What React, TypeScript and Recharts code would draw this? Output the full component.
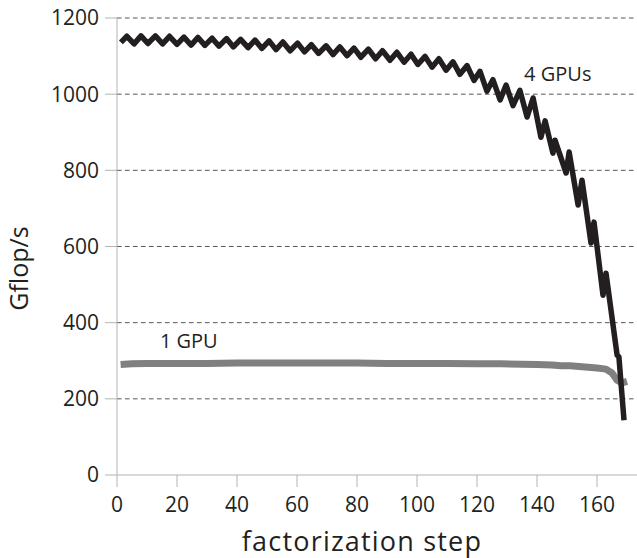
import React from 'react';
import { LineChart, Line, XAxis, YAxis, ReferenceLine, ReferenceDot, Label } from 'recharts';

// factorization step (x) and Gflop/s (y) for the 4-GPU run, read at each corner of the zig-zag
const gpu4Steps = [
  1.3, 3.3, 5.7, 8.0, 10.3, 12.8, 15.2, 17.5, 20.0, 22.3, 24.7, 27.0, 29.3, 31.7, 34.0,
  36.5, 38.8, 41.2, 43.7, 46.0, 48.3, 50.7, 53.0, 55.3, 57.7, 60.2, 62.5, 64.8, 67.2,
  69.7, 72.0, 74.3, 76.7, 79.0, 81.3, 83.8, 86.2, 88.5, 91.0, 93.3, 95.7, 98.0, 100.3,
  102.7, 105.0, 107.3, 109.7, 112.0, 114.3, 116.7, 119.0, 121.0, 123.3, 125.3, 127.7,
  129.7, 132.0, 134.3, 136.7, 138.7, 141.3, 142.7, 145.3, 146.0, 149.7, 150.7, 153.7,
  155.0, 158.0, 159.0, 162.0, 163.0, 166.7, 167.3, 169.0,
];
const gpu4Values = [
  1136, 1152, 1132, 1153, 1133, 1153, 1132, 1152, 1131, 1150, 1129, 1149, 1128, 1147, 1126,
  1146, 1124, 1144, 1122, 1142, 1120, 1140, 1117, 1137, 1114, 1134, 1111, 1130, 1107,
  1127, 1104, 1124, 1101, 1121, 1097, 1118, 1093, 1114, 1089, 1110, 1084, 1105, 1078,
  1099, 1071, 1093, 1063, 1085, 1052, 1075, 1036, 1060, 1008, 1038, 985,
  1024, 970, 1010, 940, 990, 887, 930, 845, 879, 793, 848, 709,
  774, 609, 664, 472, 530, 315, 310, 144,
];

// 1-GPU run
const gpu1Steps = [
  1.2, 5, 10, 20, 30, 40, 50, 60, 70, 80, 90, 100, 110, 120, 128, 135, 140, 145, 148,
  151, 154, 157, 160, 163, 165, 166.7, 168.3, 170,
];
const gpu1Values = [
  290, 292, 293, 293, 293, 294, 294, 294, 294, 294, 293, 293, 293, 292, 292, 291, 290, 289, 287,
  287, 285, 283, 281, 278, 268, 249, 242, 246,
];

const xTicks = [0, 20, 40, 60, 80, 100, 120, 140, 160];
const yTicks = [0, 200, 400, 600, 800, 1000, 1200];
const gridValues = [200, 400, 600, 800, 1000, 1200];

const seriesNames = ['4 GPUs', '1 GPU'];
const labelSteps = [135.7, 14.3];
const labelValues = [1052, 352];

const xTitle = 'factorization step';
const yTitle = 'Gflop/s';

const gpu4Data = gpu4Steps.map((s, i) => ({ step: s, value: gpu4Values[i] }));
const gpu1Data = gpu1Steps.map((s, i) => ({ step: s, value: gpu1Values[i] }));

const FONT = "'Open Sans', 'DejaVu Sans', sans-serif";
const TEXT = '#231f20';
const AXIS = '#b3b3b3';

const SeriesLabel = (props: any) => {
  const { viewBox, value } = props;
  return (
    <text x={viewBox.x} y={viewBox.y} dy="0.35em" textAnchor="start" fontFamily={FONT} fontSize={20} fill={TEXT}>
      {value}
    </text>
  );
};

const XTitle = (props: any) => {
  const { viewBox } = props;
  return (
    <text x={viewBox.x + viewBox.width / 2 - 15} y={viewBox.y + 76} textAnchor="middle" fontFamily={FONT} fontSize={27} letterSpacing={1.2} fill={TEXT}>
      {xTitle}
    </text>
  );
};

const YTitle = (props: any) => {
  const { viewBox } = props;
  const x = viewBox.x + 28;
  const y = viewBox.y + viewBox.height / 2 + 22;
  return (
    <text x={x} y={y} transform={`rotate(-90 ${x} ${y})`} textAnchor="middle" fontFamily={FONT} fontSize={25} fill={TEXT}>
      {yTitle}
    </text>
  );
};

export default function App() {
  return (
    <div style={{ position: 'absolute', left: 0, top: 0, width: 637, height: 558, background: '#fff' }}>
      <LineChart width={637} height={558} margin={{ top: 18, right: 0, bottom: 0, left: 0 }}>
        <XAxis
          type="number"
          dataKey="step"
          domain={[0, 173.33]}
          ticks={xTicks}
          allowDataOverflow
          height={83}
          tickSize={12}
          tickMargin={10}
          stroke={AXIS}
          tick={{ fill: TEXT, fontSize: 21, fontFamily: FONT }}
        >
          <Label content={<XTitle />} />
        </XAxis>
        <YAxis
          type="number"
          domain={[0, 1200]}
          ticks={yTicks}
          width={117}
          tickSize={12}
          tickMargin={6}
          stroke={AXIS}
          tick={{ fill: TEXT, fontSize: 21, fontFamily: FONT }}
        >
          <Label content={<YTitle />} />
        </YAxis>
        {gridValues.map((v) => (
          <ReferenceLine key={v} y={v} stroke="#555" strokeWidth={1} strokeDasharray="4.5 3.5" />
        ))}
        <Line
          data={gpu1Data}
          dataKey="value"
          stroke="#808080"
          strokeWidth={7}
          dot={false}
          isAnimationActive={false}
          strokeLinejoin="round"
        />
        <Line
          data={gpu4Data}
          dataKey="value"
          stroke="#231f20"
          strokeWidth={5.5}
          dot={false}
          isAnimationActive={false}
          strokeLinejoin="round"
        />
        {seriesNames.map((n, i) => (
          <ReferenceDot key={n} x={labelSteps[i]} y={labelValues[i]} r={0} stroke="none" label={<SeriesLabel value={n} />} />
        ))}
      </LineChart>
    </div>
  );
}
